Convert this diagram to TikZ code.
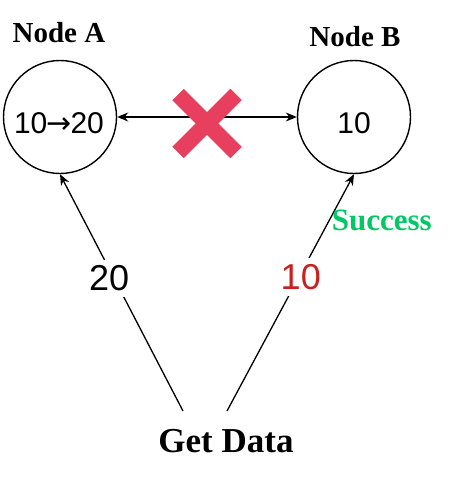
\documentclass[tikz,border=0pt]{standalone}
\usepackage{fontspec}
\setmainfont{Liberation Serif}
\newfontfamily\numfont{Liberation Sans}
\newfontfamily\arrowfont{DejaVu Sans}
\usetikzlibrary{arrows.meta}
\definecolor{xred}{HTML}{E83F5E}
\definecolor{numred}{HTML}{C8201E}
\definecolor{okgreen}{HTML}{00C864}
\tikzset{
  statecircle/.style={circle, draw=black, line width=1.4pt, minimum size=113pt, inner sep=0pt},
  titletext/.style={font=\fontsize{29}{29}\selectfont\bfseries, anchor=base, inner sep=0pt},
  valtext/.style={font=\numfont\fontsize{30}{30}\selectfont, anchor=base, inner sep=0pt},
  numlab/.style={font=\numfont\fontsize{36}{36}\selectfont, fill=white, inner sep=6pt},
  conn/.style={line width=1.3pt, -{Stealth[length=11pt,width=9pt]}},
  crossstroke/.style={xred, line width=16pt}
}
\begin{document}
\begin{tikzpicture}[x=1pt,y=-1pt]
\useasboundingbox (0,0) rectangle (453,484);
% circles
\node[statecircle] (A) at (60,117) {};
\node[statecircle] (B) at (354,117) {};
\node[valtext] (Aval) at (59,133) {10{\arrowfont\kern-1pt →\kern-1pt}20};
\node[valtext] (Bval) at (354,133) {10};
% titles
\node[titletext] (Atitle) at (59,43) {Node A};
\node[titletext] (Btitle) at (355,47) {Node B};
% double arrow
\draw[line width=1.3pt, {Stealth[length=11pt,width=9pt]}-{Stealth[length=11pt,width=9pt]}] (A.east) -- (B.west);
% red cross
\coordinate (x1) at (178,94.5);
\coordinate (x2) at (236,152.5);
\coordinate (x3) at (178,152.5);
\coordinate (x4) at (236,94.5);
\draw[crossstroke] (x1) -- (x2);
\draw[crossstroke] (x3) -- (x4);
% get data
\node[font=\fontsize{35}{35}\selectfont\bfseries, anchor=base, inner sep=0pt] (GD) at (226,452) {Get Data};
\coordinate (gl) at (183,411);
\coordinate (gr) at (227,411);
\draw[conn] (gl) -- node[numlab, pos=0.56, xshift=-5pt] (l20) {20} (A.south);
\draw[conn] (gr) -- node[numlab, text=numred, pos=0.565, xshift=2pt] (l10) {10}
  node[pos=0.805, anchor=west, inner sep=2pt, text=okgreen, font=\fontsize{31}{31}\selectfont\bfseries] (succ) {Success} (B.south);
\end{tikzpicture}
\end{document}
